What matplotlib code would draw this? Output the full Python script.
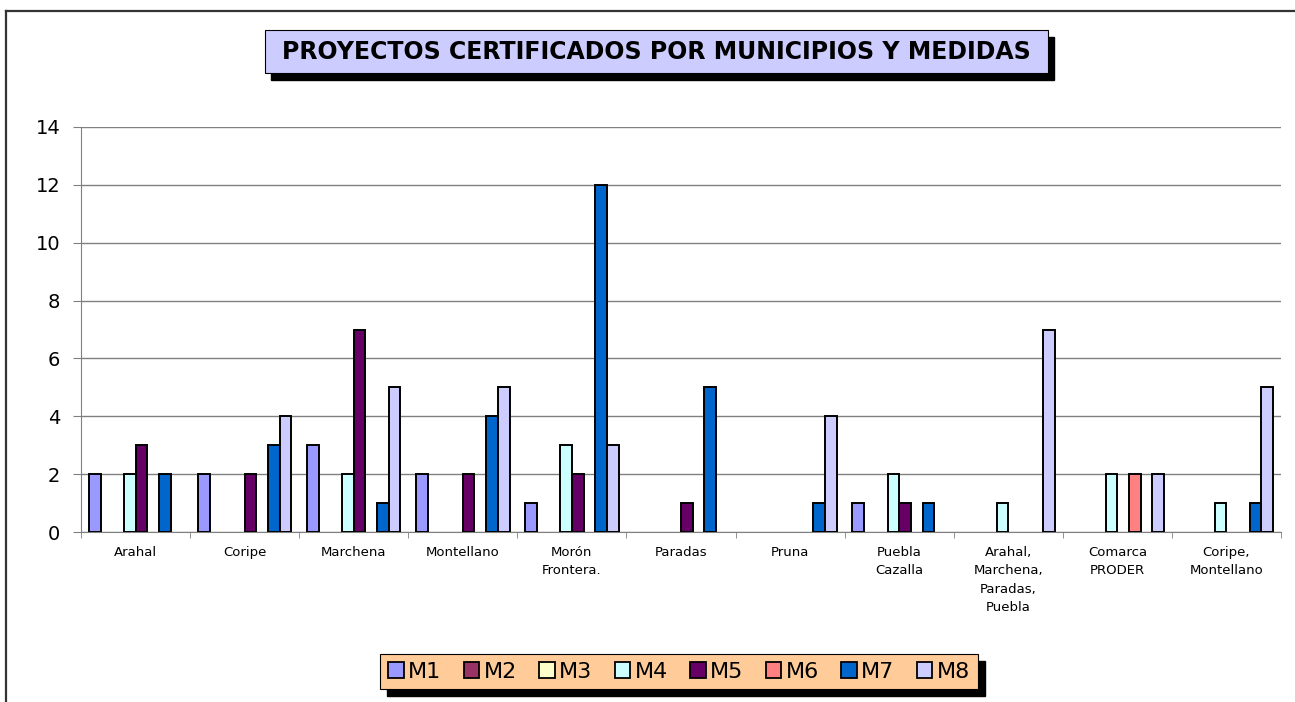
import numpy as np
import matplotlib.pyplot as plt
from matplotlib.patches import Rectangle, Patch
from matplotlib.lines import Line2D

municipios = ["Arahal", "Coripe", "Marchena", "Montellano", "Morón\nFrontera.",
              "Paradas", "Pruna", "Puebla\nCazalla",
              "Arahal,\nMarchena,\nParadas,\nPuebla", "Comarca\nPRODER",
              "Coripe,\nMontellano"]
medidas = ["M1", "M2", "M3", "M4", "M5", "M6", "M7", "M8"]
colores = ["#9999FF", "#993366", "#FFFFCC", "#CCFFFF", "#660066",
           "#FF8080", "#0066CC", "#CCCCFF"]

m1 = [2, 2, 3, 2, 1, 0, 0, 1, 0, 0, 0]
m2 = [0, 0, 0, 0, 0, 0, 0, 0, 0, 0, 0]
m3 = [0, 0, 0, 0, 0, 0, 0, 0, 0, 0, 0]
m4 = [2, 0, 2, 0, 3, 0, 0, 2, 1, 2, 1]
m5 = [3, 2, 7, 2, 2, 1, 0, 1, 0, 0, 0]
m6 = [0, 0, 0, 0, 0, 0, 0, 0, 0, 2, 0]
m7 = [2, 3, 1, 4, 12, 5, 1, 1, 0, 0, 1]
m8 = [0, 4, 5, 5, 3, 0, 4, 0, 7, 2, 5]
series = [m1, m2, m3, m4, m5, m6, m7, m8]

W, H = 1295, 702
fig = plt.figure(figsize=(W / 100, H / 100), dpi=100)
ax = fig.add_axes([81 / W, 1 - 532 / H, 1200 / W, 405 / H])
ax.patch.set_visible(False)

x = np.arange(len(municipios))
w = 0.107
for j, (vals, col) in enumerate(zip(series, colores)):
    vals = np.array(vals)
    keep = vals > 0
    ax.bar(x[keep] + (j - 3.5) * w, vals[keep], width=w, color=col,
           edgecolor="black", linewidth=1.4, zorder=3)

ax.set_xlim(-0.5, len(municipios) - 0.5)
ax.set_ylim(0, 14)
ax.set_yticks(range(0, 15, 2))
ax.yaxis.grid(True, color="#808080", linewidth=1, zorder=0)
ax.tick_params(axis="y", labelsize=14, length=6, pad=9, color="#808080")
ax.set_xticks(x)
ax.set_xticklabels(municipios, fontsize=9.5, linespacing=1.55, va="top")
ax.tick_params(axis="x", which="major", length=0, pad=10)
ax.set_xticks(np.arange(-0.5, len(municipios)), minor=True)
ax.tick_params(axis="x", which="minor", length=4, color="#808080")
for s in ["top", "right"]:
    ax.spines[s].set_visible(False)
for s in ["left", "bottom"]:
    ax.spines[s].set_color("#808080")

# marco del grafico
fig.add_artist(Line2D([6 / W, 6 / W], [0, 1 - 11 / H], color="#333333", lw=1.6))
fig.add_artist(Line2D([6 / W, 1], [1 - 11 / H, 1 - 11 / H], color="#333333", lw=1.6))

# titulo con sombra
fig.add_artist(Rectangle((271 / W, 1 - 80 / H), 783 / W, 43 / H,
                         transform=fig.transFigure, color="black", zorder=1))
fig.add_artist(Rectangle((265 / W, 1 - 73 / H), 783 / W, 43 / H,
                         transform=fig.transFigure, facecolor="#CCCCFF",
                         edgecolor="black", lw=0.8, zorder=2))
fig.text(656.5 / W, 1 - 52 / H, "PROYECTOS CERTIFICADOS POR MUNICIPIOS Y MEDIDAS",
         ha="center", va="center", fontsize=17, fontweight="bold", zorder=3)

# leyenda
handles = [Patch(facecolor=c, edgecolor="black", linewidth=1.3) for c in colores]
leg = fig.legend(handles, medidas, loc="center", ncol=8,
                 bbox_to_anchor=(679 / W, 1 - 671.5 / H), fontsize=16,
                 frameon=True, fancybox=False, framealpha=1,
                 facecolor="#FFCC99", edgecolor="black",
                 handlelength=0.7, handleheight=0.7, handletextpad=0.2,
                 columnspacing=1.0, borderpad=0.35, borderaxespad=0)
leg.get_frame().set_linewidth(0.8)
fig.canvas.draw()
bb = leg.get_window_extent()
fig.add_artist(Rectangle(((bb.x0 + 7) / W, (bb.y0 - 7) / H), bb.width / W, bb.height / H,
                         transform=fig.transFigure, color="black", zorder=1))

fig.savefig("out.png", dpi=100)
